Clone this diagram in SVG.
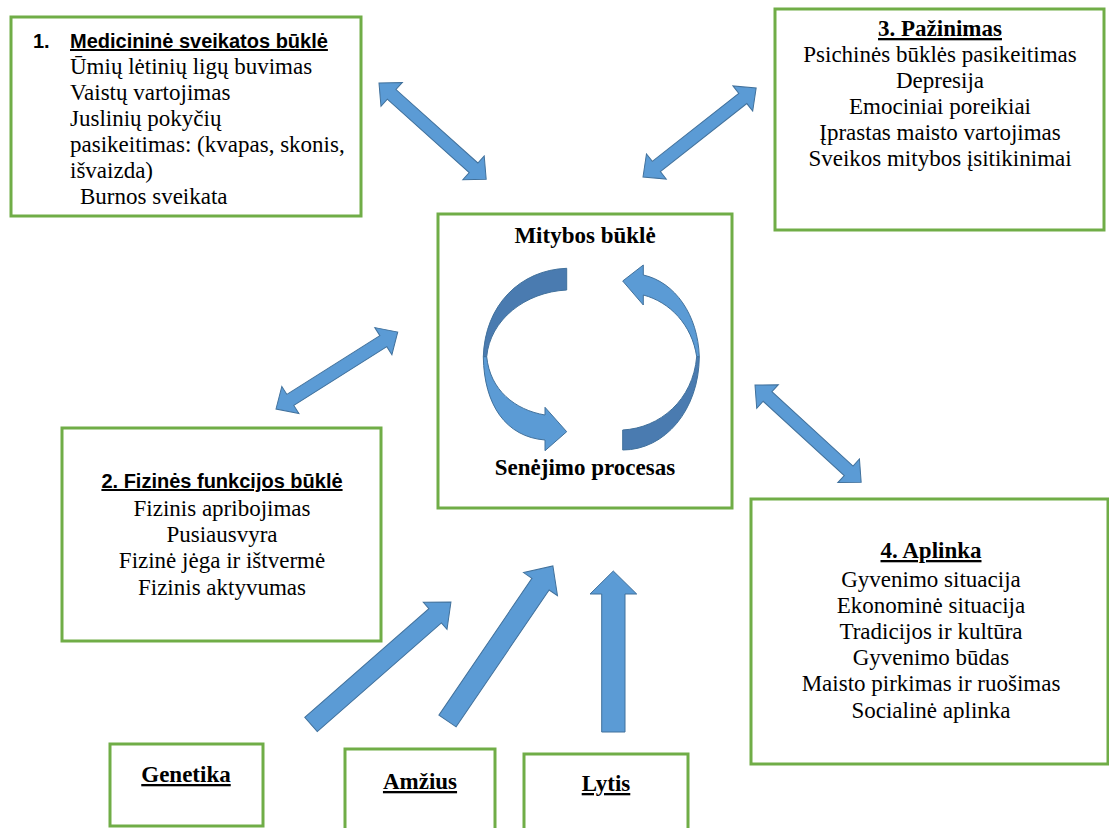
<svg xmlns="http://www.w3.org/2000/svg" xmlns:xlink="http://www.w3.org/1999/xlink" width="1109" height="828" viewBox="0 0 1109 828">
  <style>
    .box { fill: #ffffff; stroke: #70ad47; stroke-width: 3; }
    .t { font-family: "Liberation Serif", "Times New Roman", serif; font-size: 23px; fill: #000; }
    .c { text-anchor: middle; }
    .tb { font-family: "Liberation Serif", "Times New Roman", serif; font-size: 23px; font-weight: bold; fill: #000; }
    .sb { font-family: "Liberation Sans", Arial, sans-serif; font-size: 20px; font-weight: bold; fill: #000; }
    .u { text-decoration: underline; }
    .arr { fill: #5b9bd5; stroke: #41719c; stroke-width: 1; stroke-linejoin: miter; }
    .dark { fill: #4a7bb0; stroke: #41719c; stroke-width: 1; }
  </style>
  <defs>
    <path id="dbl" d="M0,0 L17,-16 L17,-6.5 L127,-6.5 L127,-16 L144,0 L127,16 L127,6.5 L17,6.5 L17,16 Z"/>
  </defs>
  <rect width="1109" height="828" fill="#ffffff"/>

  <g id="box-medicinine">
    <rect class="box" x="11" y="17" width="350" height="199"/>
    <text class="sb" x="33" y="48">1.</text>
    <text class="sb u" x="70" y="48">Medicininė sveikatos būklė</text>
    <text class="t" x="70" y="74">Ūmių lėtinių ligų buvimas</text>
    <text class="t" x="70" y="100">Vaistų vartojimas</text>
    <text class="t" x="70" y="126">Juslinių pokyčių</text>
    <text class="t" x="70" y="152">pasikeitimas: (kvapas, skonis,</text>
    <text class="t" x="70" y="178">išvaizda)</text>
    <text class="t" x="80" y="204">Burnos sveikata</text>
  </g>

  <g id="box-pazinimas">
    <rect class="box" x="775" y="9" width="329" height="221"/>
    <text class="tb c u" x="940" y="36">3. Pažinimas</text>
    <text class="t c" x="940" y="62">Psichinės būklės pasikeitimas</text>
    <text class="t c" x="940" y="88">Depresija</text>
    <text class="t c" x="940" y="114">Emociniai poreikiai</text>
    <text class="t c" x="940" y="140">Įprastas maisto vartojimas</text>
    <text class="t c" x="940" y="166">Sveikos mitybos įsitikinimai</text>
  </g>

  <g id="box-centras">
    <rect class="box" x="438" y="214" width="294" height="294"/>
    <text class="tb c" x="585" y="243">Mitybos būklė</text>
    <text class="tb c" x="585" y="475">Senėjimo procesas</text>
    <path class="dark" d="M566.7,268.3 C520,270 485,305 483.3,356.7 L486.7,356.7 C490,320 525,292 566.7,290 Z"/>
    <path class="arr" d="M483.3,356.7 C484,405 506,437 545,440 L545,450.7 L566.7,431.7 L545,407.3 L545,415 C515,410 490,390 486.7,356.7 Z"/>
    <path class="arr" d="M699.3,356.7 C698,315 675,282 643.3,275 L643.3,265 L622.7,281 L643.3,305 L643.3,295 C670,302 692,325 696.7,356.7 Z"/>
    <path class="dark" d="M699.3,356.7 C699,410 665,450 622.7,450 L622.7,430 C660,428 693,400 696.7,356.7 Z"/>
  </g>

  <g id="box-fizine">
    <rect class="box" x="62" y="428" width="319" height="213"/>
    <text class="sb c u" x="222" y="488">2. Fizinės funkcijos būklė</text>
    <text class="t c" x="222" y="516">Fizinis apribojimas</text>
    <text class="t c" x="222" y="542">Pusiausvyra</text>
    <text class="t c" x="222" y="568">Fizinė jėga ir ištvermė</text>
    <text class="t c" x="222" y="595">Fizinis aktyvumas</text>
  </g>

  <g id="box-aplinka">
    <rect class="box" x="751" y="499" width="357" height="265"/>
    <text class="tb c u" x="931" y="558">4. Aplinka</text>
    <text class="t c" x="931" y="587">Gyvenimo situacija</text>
    <text class="t c" x="931" y="613">Ekonominė situacija</text>
    <text class="t c" x="931" y="639">Tradicijos ir kultūra</text>
    <text class="t c" x="931" y="665">Gyvenimo būdas</text>
    <text class="t c" x="931" y="691">Maisto pirkimas ir ruošimas</text>
    <text class="t c" x="931" y="718">Socialinė aplinka</text>
  </g>

  <g id="box-genetika">
    <rect class="box" x="110" y="744" width="153" height="82"/>
    <text class="tb c u" x="186" y="782">Genetika</text>
  </g>

  <g id="box-amzius">
    <rect class="box" x="345" y="749" width="150" height="90"/>
    <text class="tb c u" x="420" y="789">Amžius</text>
  </g>

  <g id="box-lytis">
    <rect class="box" x="524" y="754" width="164" height="90"/>
    <text class="tb c u" x="606" y="791">Lytis</text>
  </g>

  <g id="connectors">
    <use xlink:href="#dbl" class="arr" transform="translate(379,83) rotate(41.9)"/>
    <use xlink:href="#dbl" class="arr" transform="translate(643,177) rotate(-38.2)"/>
    <use xlink:href="#dbl" class="arr" transform="translate(276,409) rotate(-32.3)"/>
    <use xlink:href="#dbl" class="arr" transform="translate(755,385) rotate(42.5)"/>
    <path class="arr" transform="translate(311,724.5) rotate(-41.2)" d="M0,-9.5 L165,-9.5 L165,-18 L186,0 L165,18 L165,9.5 L0,9.5 Z"/>
    <path class="arr" transform="translate(447.5,721) rotate(-55.8)" d="M0,-10.4 L165.5,-10.4 L165.5,-20.5 L187.5,0 L165.5,20.5 L165.5,10.4 L0,10.4 Z"/>
    <path class="arr" d="M601.7,732 L625,732 L625,594 L636.7,594 L613.3,571 L590,594 L601.7,594 Z"/>
  </g>
</svg>
